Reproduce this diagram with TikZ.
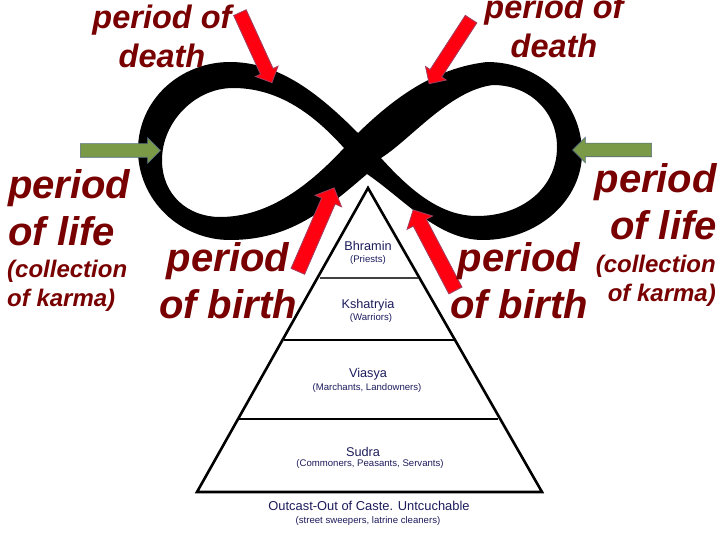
\documentclass[tikz,border=0pt]{standalone}
\usepackage{fontspec}
\setmainfont{Liberation Sans}
\usetikzlibrary{shapes.arrows}
\definecolor{karmared}{HTML}{780000}
\definecolor{castenavy}{HTML}{1C1C5C}
\definecolor{arrowred}{HTML}{FF0010}
\definecolor{arrowedge}{HTML}{A04060}
\definecolor{arrowgreen}{HTML}{7A9A48}
\tikzset{
    bigtext/.style={text=karmared,font=\bfseries\itshape\fontsize{40}{47}\selectfont,inner sep=0pt},
    toptext/.style={text=karmared,font=\bfseries\itshape\fontsize{32.5}{39}\selectfont,inner sep=0pt,align=center},
    notetext/.style={text=karmared,font=\bfseries\itshape\fontsize{24}{29.5}\selectfont,inner sep=0pt},
    castename/.style={text=castenavy,font=\fontsize{12.7}{14}\selectfont,inner sep=0pt},
    castenote/.style={text=castenavy,font=\fontsize{9.6}{11}\selectfont,inner sep=0pt},
    redarrow/.style={single arrow,fill=arrowred,draw=arrowedge,line width=.8pt,
        inner xsep=0pt,inner ysep=6.5pt,single arrow head extend=5.5pt},
    redlong/.style={redarrow,inner ysep=7pt,single arrow head extend=7pt},
    greenarrow/.style={single arrow,fill=arrowgreen,draw=arrowgreen!70!blue,line width=.6pt,
        inner xsep=0pt,inner ysep=6.5pt,single arrow head extend=6pt}
}
\begin{document}
\begin{tikzpicture}[x=1pt,y=-1pt]
    \useasboundingbox (0,0) rectangle (720,540);

    % the infinity loop
    \fill[even odd rule] (358,133) .. controls (320,95) and (280,62) .. (230,62)
        .. controls (180,62) and (138,100) .. (138,150)
        .. controls (138,200) and (180,240) .. (230,240)
        .. controls (290,240) and (325,210) .. (367,174)
        .. controls (405,200) and (438,240) .. (483,240)
        .. controls (538,240) and (582,200) .. (582,153)
        .. controls (582,102) and (540,62) .. (487,62)
        .. controls (435,68) and (395,97) .. cycle
        (344,148) .. controls (310,110) and (275,88) .. (233,88)
        .. controls (195,88) and (162,122) .. (162,160)
        .. controls (162,195) and (188,217) .. (220,217)
        .. controls (265,217) and (305,190) .. cycle
        (381,158) .. controls (410,140) and (450,90) .. (493,85)
        .. controls (530,85) and (557,112) .. (557,147)
        .. controls (557,188) and (522,216) .. (477,216)
        .. controls (440,216) and (410,190) .. cycle;

    % arrows
    \node[redarrow,minimum height=77pt,rotate=-65.4] (deathl) at (254.5,44.5) {};
    \node[redarrow,minimum height=77pt,rotate=-123] (deathr) at (452,48.5) {};
    \node[redlong,minimum height=91pt,rotate=66.5] (birthl) at (314.5,233) {};
    \node[redlong,minimum height=91pt,rotate=117.7] (birthr) at (436,253.5) {};
    \node[greenarrow,minimum height=80pt] (lifel) at (117,150.5) {};
    \node[greenarrow,minimum height=79pt,rotate=180] (lifer) at (615.5,150) {};

    % labels round the loop
    \node[toptext] (deathtl) at (162,36.5) {period of\\death};
    \node[toptext] (deathtr) at (554,26.5) {period of\\death};
    \node[bigtext,align=left,anchor=west] (lifetl) at (8,207.5) {period\\of life};
    \node[notetext,align=left,anchor=west] (karmal) at (7,286) {(collection\\of karma)};
    \node[bigtext,align=center] (birthtl) at (228,281) {period\\of birth};
    \node[bigtext,align=center] (birthtr) at (519,281) {period\\of birth};
    \node[bigtext,align=right,anchor=east] (lifetr) at (717,202) {period\\of life};
    \node[notetext,align=right,anchor=east] (karmar) at (716,281) {(collection\\of karma)};

    % the pyramid
    \coordinate (apex) at (368,188);
    \coordinate (baseleft) at (197,492);
    \coordinate (baseright) at (542,492);
    \draw[line width=2.6pt,line join=miter] (apex) -- (baseleft) -- (baseright) -- cycle;
    \coordinate (tieraleft) at (320,278);
    \coordinate (tieraright) at (418,278);
    \coordinate (tierbleft) at (284,340);
    \coordinate (tierbright) at (455,340);
    \coordinate (tiercleft) at (239,419);
    \coordinate (tiercright) at (498,419);
    \draw[line width=2pt,black!75] (tieraleft) -- (tieraright);
    \draw[line width=2pt] (tierbleft) -- (tierbright);
    \draw[line width=2pt] (tiercleft) -- (tiercright);

    \node[castename] (bhramin) at (368,246) {Bhramin};
    \node[castenote] (priests) at (368,260) {(Priests)};
    \node[castename] (kshatryia) at (368,305) {Kshatryia};
    \node[castenote] (warriors) at (371,318) {(Warriors)};
    \node[castename] (viasya) at (368,374) {Viasya};
    \node[castenote] (marchants) at (367,388) {(Marchants, Landowners)};
    \node[castename] (sudra) at (363,452) {Sudra};
    \node[castenote] (commoners) at (370,464) {(Commoners, Peasants, Servants)};
    \node[castename,font=\fontsize{12.9}{14}\selectfont] (outcast) at (369,506) {Outcast-Out of Caste. Untcuchable};
    \node[castenote] (sweepers) at (368,521) {(street sweepers, latrine cleaners)};
\end{tikzpicture}
\end{document}
